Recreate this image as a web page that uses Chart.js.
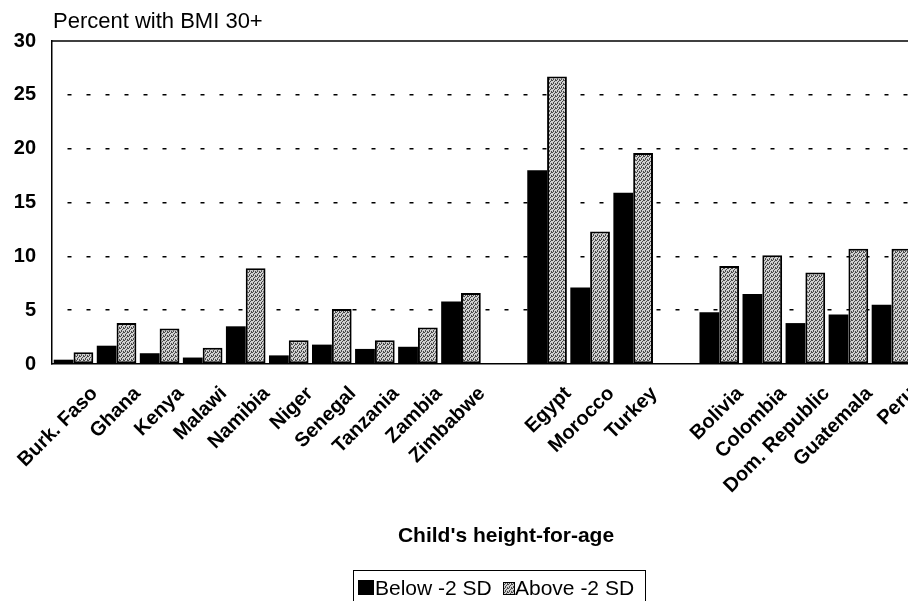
<!DOCTYPE html>
<html>
<head>
<meta charset="utf-8">
<script src="https://cdn.jsdelivr.net/npm/chart.js@4"></script>
<style>
  html, body { margin: 0; padding: 0; background: #fff; overflow: hidden; }
  #wrap { width: 916px; height: 601px; }
</style>
</head>
<body>
<div id="wrap"><canvas id="bmiChart" width="916" height="601"></canvas></div>
<script>
// countries, with blank slots between the three regions
const countries = ['Burk. Faso', 'Ghana', 'Kenya', 'Malawi', 'Namibia', 'Niger', 'Senegal', 'Tanzania', 'Zambia', 'Zimbabwe',
    '', 'Egypt', 'Morocco', 'Turkey',
    '', 'Bolivia', 'Colombia', 'Dom. Republic', 'Guatemala', 'Peru'];
const belowSD = [0.4, 1.7, 1.0, 0.6, 3.5, 0.8, 1.8, 1.4, 1.6, 5.8,
    null, 18.0, 7.1, 15.9,
    null, 4.8, 6.5, 3.8, 4.6, 5.5];
const aboveSD = [1.1, 3.8, 3.3, 1.5, 8.9, 2.2, 5.1, 2.2, 3.4, 6.6,
    null, 26.7, 12.3, 19.6,
    null, 9.1, 10.1, 8.5, 10.7, 10.7];
const yTicks = [0, 5, 10, 15, 20, 25, 30];

const FONT = '"Liberation Sans", Arial, sans-serif';

// stippled grey fill like the printed chart
function makeStipple() {
    const c = document.createElement('canvas');
    c.width = 4; c.height = 4;
    const g = c.getContext('2d');
    g.fillStyle = '#d0d0d0';
    g.fillRect(0, 0, 4, 4);
    g.fillStyle = '#4a4a4a';
    [[0,0],[2,1],[1,2],[3,3],[3,0],[1,3]].forEach(p => g.fillRect(p[0], p[1], 1, 1));
    return g.createPattern(c, 'repeat');
}
const stipple = makeStipple();

// title, x title, legend, solid top line
const extras = {
    id: 'extras',
    afterDraw(chart) {
        const ctx = chart.ctx;
        const area = chart.chartArea;
        ctx.save();
        ctx.strokeStyle = '#000';
        ctx.lineWidth = 1.5;
        ctx.beginPath();
        ctx.moveTo(area.left, area.top);
        ctx.lineTo(area.right, area.top);
        ctx.stroke();

        ctx.fillStyle = '#000';
        ctx.textBaseline = 'alphabetic';
        ctx.textAlign = 'left';
        ctx.font = '22px ' + FONT;
        ctx.fillText('Percent with BMI 30+', 53, 28);

        ctx.textAlign = 'center';
        ctx.font = 'bold 21px ' + FONT;
        ctx.fillText("Child's height-for-age", 506, 542);

        // legend box
        ctx.lineWidth = 1;
        ctx.strokeRect(353.5, 570.5, 292, 40);
        ctx.fillStyle = '#000';
        ctx.fillRect(358, 580, 16, 15);
        ctx.fillStyle = stipple;
        ctx.fillRect(503, 582, 11, 12);
        ctx.strokeRect(503.5, 582.5, 11, 12);
        ctx.fillStyle = '#000';
        ctx.textAlign = 'left';
        ctx.font = '21px ' + FONT;
        ctx.fillText('Below -2 SD', 375, 595);
        ctx.fillText('Above -2 SD', 515, 595);
        ctx.restore();
    }
};

new Chart(document.getElementById('bmiChart'), {
    type: 'bar',
    data: {
        labels: countries,
        datasets: [
            { label: 'Below -2 SD', data: belowSD, backgroundColor: '#000', borderWidth: 0 },
            { label: 'Above -2 SD', data: aboveSD, backgroundColor: stipple, borderColor: '#000', borderWidth: 2, borderSkipped: false }
        ]
    },
    options: {
        responsive: false,
        animation: false,
        categoryPercentage: 0.92,
        barPercentage: 1,
        layout: { padding: { top: 41, right: 3, left: 0, bottom: 0 } },
        plugins: { legend: { display: false }, tooltip: { enabled: false }, title: { display: false } },
        scales: {
            x: {
                grid: { display: false, drawTicks: false },
                border: { color: '#000', width: 1.5 },
                ticks: {
                    color: '#000', font: { family: FONT, size: 20, weight: 'bold' },
                    minRotation: 45, maxRotation: 45, autoSkip: false,
                    labelOffset: 21, padding: 18
                },
                afterFit(s) { s.height = 237; s.paddingLeft = 0; s.paddingRight = 0; }
            },
            y: {
                min: 0, max: 30,
                afterBuildTicks(s) { s.ticks = yTicks.map(v => ({ value: v })); },
                grid: {
                    drawTicks: false,
                    color: c => (c.tick.value === 0 || c.tick.value === 30) ? 'rgba(0,0,0,0)' : '#000',
                    lineWidth: 1.5
                },
                border: { color: '#000', width: 1.5, dash: [4, 15], dashOffset: 4 },
                ticks: { color: '#000', font: { family: FONT, size: 20, weight: 'bold' }, padding: 16 },
                afterFit(s) { s.width = 52; }
            }
        }
    },
    plugins: [extras]
});
</script>
</body>
</html>
